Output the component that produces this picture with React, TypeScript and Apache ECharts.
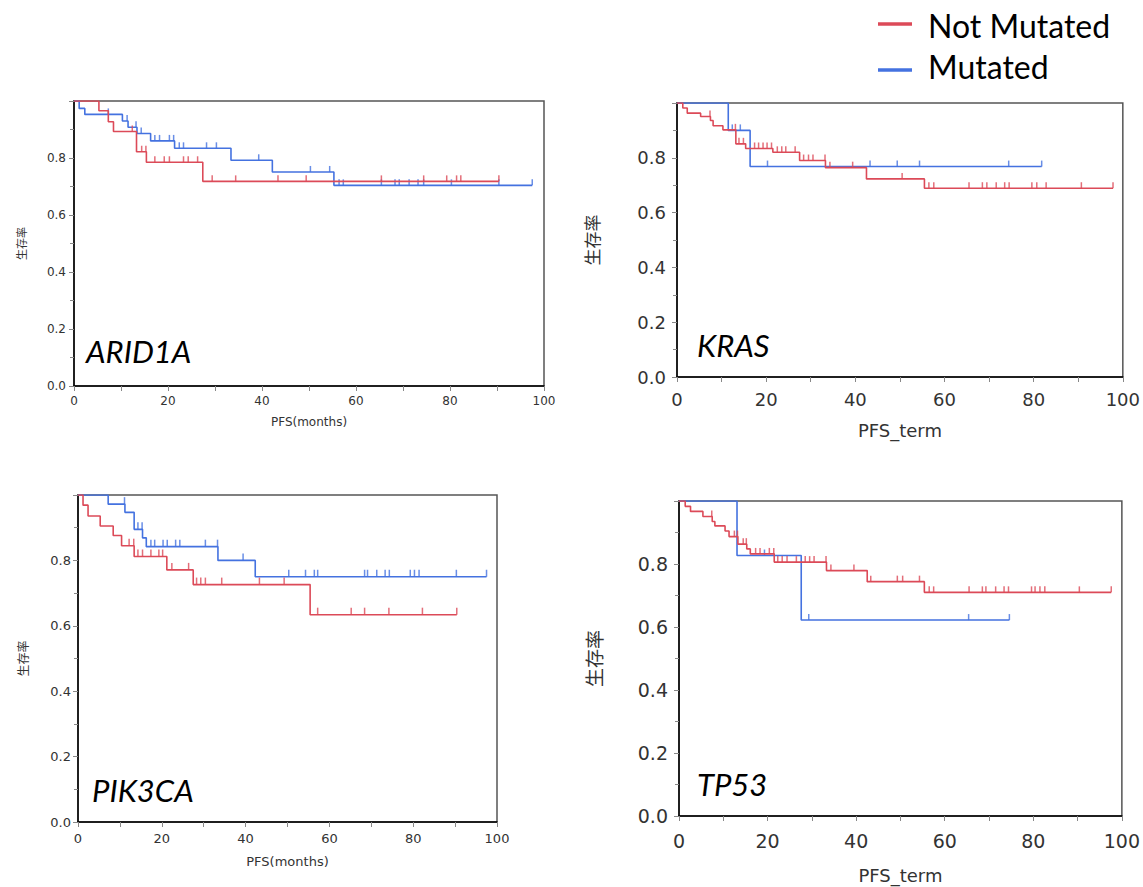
import React, { useEffect, useRef } from 'react';
import * as echarts from 'echarts';

const RED = '#dc4a58';
const BLUE = '#4472e0';

const groupNames = ['Not Mutated', 'Mutated'];
const xTickLabels = [0, 20, 40, 60, 80, 100];
const yTickLabels = [0, 0.2, 0.4, 0.6, 0.8, 1.0];

// ARID1A
const arid1aNotMutTimes = [0, 5.3, 7.3, 8.4, 13.3, 15.4, 27.4, 90.4];
const arid1aNotMutSurv = [1, 0.966, 0.927, 0.893, 0.822, 0.785, 0.718, 0.718];
const arid1aNotMutCensor = [12.4, 14.4, 15.3, 17.2, 19.2, 20.3, 23.3, 24.3, 26.3, 29.4, 34.4, 43.4, 49.4, 65.4, 74.4, 79.3, 81.4, 82.3, 90.4];
const arid1aMutTimes = [0, 1.1, 2.3, 10.3, 11.5, 13.4, 16.3, 21.4, 33.4, 42.2, 55.3, 97.5];
const arid1aMutSurv = [1, 0.974, 0.953, 0.93, 0.908, 0.886, 0.86, 0.834, 0.792, 0.751, 0.704, 0.704];
const arid1aMutCensor = [7.3, 11.3, 13.2, 14.3, 17.2, 18.2, 20.3, 21.2, 22.4, 23.3, 28.2, 30.3, 39.3, 50.3, 54.4, 56.4, 57.3, 65.4, 68.3, 69.2, 71.3, 73.2, 74.4, 80.3, 90.4, 97.5];

// KRAS
const krasNotMutTimes = [0, 1.3, 2.3, 5.3, 7.5, 8.1, 10.3, 13.2, 15.4, 21.5, 27.5, 33.3, 42.5, 55.5, 97.8];
const krasNotMutSurv = [1, 0.982, 0.963, 0.951, 0.936, 0.917, 0.902, 0.851, 0.834, 0.82, 0.79, 0.764, 0.723, 0.689, 0.689];
const krasNotMutCensor = [7.4, 13.1, 13.9, 14.9, 17.4, 18.3, 19.3, 20.2, 21.2, 22.5, 23.5, 24.4, 26.5, 28.4, 29.5, 30.5, 33.2, 34.3, 39.4, 50.5, 56.5, 57.6, 65.5, 68.5, 69.5, 71.6, 73.5, 74.5, 79.6, 80.7, 82.8, 90.7, 97.8];
const krasMutTimes = [0, 11.5, 16.4, 81.8];
const krasMutSurv = [1, 0.9, 0.768, 0.768];
const krasMutCensor = [12.4, 14.2, 20.3, 43.3, 49.4, 54.4, 74.4, 81.8];

// PIK3CA
const pik3caNotMutTimes = [0, 1.2, 2.4, 5.3, 8.4, 10.4, 13.4, 21.2, 27.5, 55.4, 90.4];
const pik3caNotMutSurv = [1, 0.969, 0.936, 0.905, 0.876, 0.845, 0.812, 0.771, 0.726, 0.634, 0.634];
const pik3caNotMutCensor = [12.2, 13.3, 14.3, 15.4, 17.4, 19.3, 20.2, 22.4, 26.4, 28.3, 29.3, 30.4, 34.3, 43.3, 49.2, 57.2, 65.2, 68.4, 74.2, 82.2, 90.4];
const pik3caMutTimes = [0, 7.2, 11.2, 13.4, 15.4, 16.3, 33.4, 42.3, 97.5];
const pik3caMutSurv = [1, 0.972, 0.947, 0.895, 0.869, 0.842, 0.8, 0.75, 0.75];
const pik3caMutCensor = [11.1, 14.3, 15.3, 17.4, 18.3, 20.3, 21.3, 23.3, 24.3, 30.4, 33.3, 39.4, 50.3, 54.3, 56.4, 57.2, 68.4, 69.1, 71.3, 73.3, 74.3, 79.3, 80.3, 81.4, 90.3, 97.5];

// TP53
const tp53NotMutTimes = [0, 1.4, 2.6, 5.4, 7.5, 8.1, 10.4, 11.3, 13.3, 15.3, 16.1, 21.5, 33.3, 42.5, 55.4, 97.6];
const tp53NotMutSurv = [1, 0.983, 0.967, 0.951, 0.935, 0.921, 0.905, 0.887, 0.863, 0.848, 0.832, 0.806, 0.779, 0.744, 0.71, 0.71];
const tp53NotMutCensor = [7.4, 12.5, 13.2, 14.5, 15.2, 17.3, 18.3, 20.4, 21.4, 22.3, 23.3, 24.4, 26.5, 28.5, 29.5, 30.5, 33.2, 34.3, 39.5, 43.3, 49.3, 50.5, 54.3, 56.5, 57.5, 65.5, 68.5, 69.3, 71.5, 73.4, 74.4, 79.6, 80.4, 81.5, 82.6, 90.4, 97.6];
const tp53MutTimes = [0, 13.1, 27.6, 74.6];
const tp53MutSurv = [1, 0.827, 0.622, 0.622];
const tp53MutCensor = [19.3, 29.3, 65.4, 74.6];

type Group = { times: number[]; surv: number[]; censor: number[] };
type Panel = {
  gene: string;
  xName: string;
  grid: { left: number; top: number; width: number; height: number };
  tickFont: number;
  xNameFont: number;
  yNameFont: number;
  xLabelMargin: number;
  yLabelMargin: number;
  xNameGap: number;
  yNameGap: number;
  geneX: number;
  geneY: number;
  tickLen: number;
  groups: Group[];
};

const panels: Panel[] = [
  {
    gene: 'ARID1A', xName: 'PFS(months)',
    grid: { left: 74, top: 101, width: 470, height: 285 },
    tickFont: 12, xNameFont: 12, yNameFont: 11, xLabelMargin: 9, yLabelMargin: 8,
    xNameGap: 30, yNameGap: 48, geneX: 86, geneY: 354, tickLen: 6,
    groups: [
      { times: arid1aNotMutTimes, surv: arid1aNotMutSurv, censor: arid1aNotMutCensor },
      { times: arid1aMutTimes, surv: arid1aMutSurv, censor: arid1aMutCensor },
    ],
  },
  {
    gene: 'KRAS', xName: 'PFS_term',
    grid: { left: 677, top: 103, width: 459, height: 274 },
    tickFont: 18, xNameFont: 18, yNameFont: 17, xLabelMargin: 13, yLabelMargin: 11,
    xNameGap: 44, yNameGap: 77, geneX: 697, geneY: 348, tickLen: 6,
    groups: [
      { times: krasNotMutTimes, surv: krasNotMutSurv, censor: krasNotMutCensor },
      { times: krasMutTimes, surv: krasMutSurv, censor: krasMutCensor },
    ],
  },
  {
    gene: 'PIK3CA', xName: 'PFS(months)',
    grid: { left: 78, top: 495, width: 419, height: 327 },
    tickFont: 13, xNameFont: 13, yNameFont: 12, xLabelMargin: 10, yLabelMargin: 7,
    xNameGap: 33, yNameGap: 50, geneX: 92, geneY: 793, tickLen: 7,
    groups: [
      { times: pik3caNotMutTimes, surv: pik3caNotMutSurv, censor: pik3caNotMutCensor },
      { times: pik3caMutTimes, surv: pik3caMutSurv, censor: pik3caMutCensor },
    ],
  },
  {
    gene: 'TP53', xName: 'PFS_term',
    grid: { left: 679, top: 501, width: 461, height: 315 },
    tickFont: 19, xNameFont: 18, yNameFont: 19, xLabelMargin: 15, yLabelMargin: 11,
    xNameGap: 50, yNameGap: 76, geneX: 697, geneY: 787, tickLen: 6,
    groups: [
      { times: tp53NotMutTimes, surv: tp53NotMutSurv, censor: tp53NotMutCensor },
      { times: tp53MutTimes, surv: tp53MutSurv, censor: tp53MutCensor },
    ],
  },
];

const colors = [RED, BLUE];

function survAt(t: number, times: number[], surv: number[]) {
  let s = surv[0];
  for (let i = 0; i < times.length; i++) if (times[i] <= t) s = surv[i];
  return s;
}

export default function App() {
  const ref = useRef<HTMLDivElement>(null);
  useEffect(() => {
    const chart = echarts.init(ref.current!, null, { renderer: 'svg' });
    const labelFont = 'DejaVu Sans';
    const grids: any[] = [];
    const xAxes: any[] = [];
    const yAxes: any[] = [];
    const series: any[] = [];
    const graphics: any[] = [];
    panels.forEach((p, i) => {
      grids.push({ ...p.grid, show: true, borderColor: '#555', borderWidth: 1.5, containLabel: false });
      xAxes.push({
        gridIndex: i, type: 'value', min: xTickLabels[0], max: xTickLabels[xTickLabels.length - 1],
        interval: xTickLabels[1] - xTickLabels[0],
        name: p.xName, nameLocation: 'middle', nameGap: p.xNameGap,
        nameTextStyle: { fontSize: p.xNameFont, color: '#333', fontFamily: labelFont },
        axisLine: { lineStyle: { color: '#000', width: 1.5 } },
        axisTick: { length: 5, lineStyle: { color: '#888' } },
        minorTick: { show: true, splitNumber: 2, length: 5, lineStyle: { color: '#888' } },
        splitLine: { show: false },
        axisLabel: { fontSize: p.tickFont, color: '#333', margin: p.xLabelMargin, fontFamily: labelFont },
      });
      yAxes.push({
        gridIndex: i, type: 'value', min: yTickLabels[0], max: yTickLabels[yTickLabels.length - 1],
        interval: yTickLabels[1] - yTickLabels[0],
        name: '生存率', nameLocation: 'middle', nameGap: p.yNameGap, nameRotate: 90,
        nameTextStyle: { fontSize: p.yNameFont, color: '#333', fontFamily: 'Noto Sans CJK JP' },
        axisLine: { lineStyle: { color: '#000', width: 1.5 } },
        axisTick: { length: 5, lineStyle: { color: '#888' } },
        minorTick: { show: true, splitNumber: 2, length: 4, lineStyle: { color: '#888' } },
        splitLine: { show: false },
        axisLabel: {
          fontSize: p.tickFont, color: '#333', margin: p.yLabelMargin, fontFamily: labelFont,
          formatter: (v: number) => (v >= 0.999 ? '' : v.toFixed(1)),
        },
      });
      p.groups.forEach((g, k) => {
        series.push({
          type: 'line', name: groupNames[k], xAxisIndex: i, yAxisIndex: i, step: 'end',
          data: g.times.map((t, j) => [t, g.surv[j]]), symbol: 'none',
          lineStyle: { color: colors[k], width: 1.6 }, itemStyle: { color: colors[k] },
          z: k === 0 ? 3 : 2, silent: true,
        });
        series.push({
          type: 'scatter', name: groupNames[k] + ' censored', xAxisIndex: i, yAxisIndex: i,
          data: g.censor.map((t) => [t, survAt(t, g.times, g.surv)]),
          symbol: 'rect', symbolSize: [1.5, p.tickLen], symbolOffset: [0, -p.tickLen / 2],
          itemStyle: { color: colors[k] }, z: k === 0 ? 3 : 2, silent: true,
        });
      });
      graphics.push({
        type: 'text', left: p.geneX, top: p.geneY - 19,
        style: { text: p.gene, fontSize: 31, fontStyle: 'italic', fontFamily: 'Lato', fill: '#000' },
      });
    });
    // legend
    graphics.push({ type: 'line', shape: { x1: 878, y1: 24, x2: 912, y2: 24 }, style: { stroke: RED, lineWidth: 3.5 } });
    graphics.push({ type: 'line', shape: { x1: 878, y1: 70, x2: 912, y2: 70 }, style: { stroke: BLUE, lineWidth: 3.5 } });
    graphics.push({ type: 'text', left: 928, top: 9, style: { text: groupNames[0], fontSize: 32, fontFamily: 'Lato', fill: '#000' } });
    graphics.push({ type: 'text', left: 928, top: 50, style: { text: groupNames[1], fontSize: 32, fontFamily: 'Lato', fill: '#000' } });

    chart.setOption({
      animation: false,
      backgroundColor: '#fff',
      grid: grids,
      xAxis: xAxes,
      yAxis: yAxes,
      series,
      graphic: graphics,
    });
    return () => chart.dispose();
  }, []);
  return <div ref={ref} style={{ position: 'absolute', left: 0, top: 0, width: 1143, height: 887 }} />;
}
